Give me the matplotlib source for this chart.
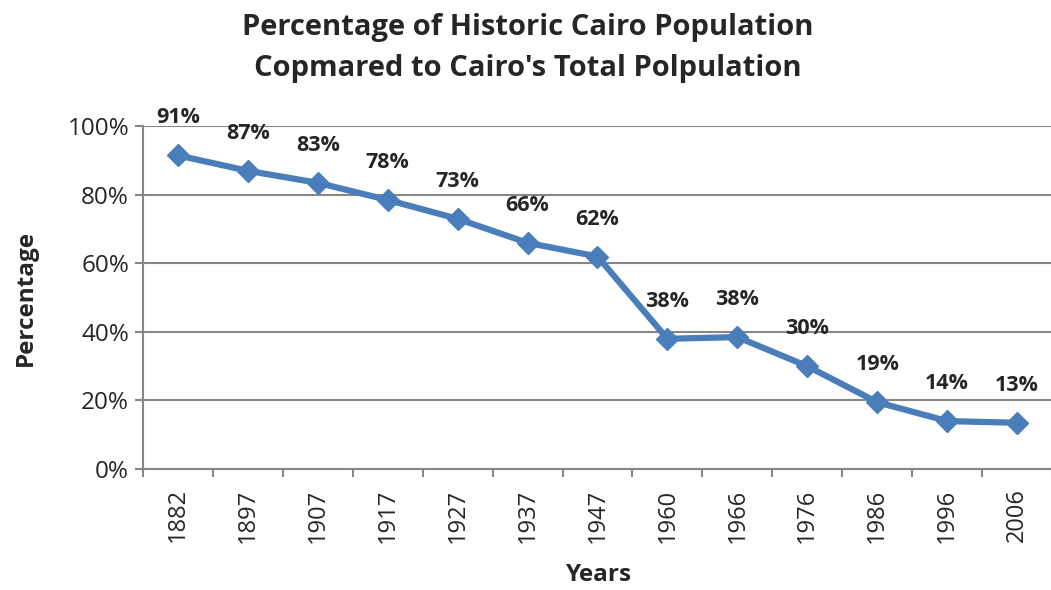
from matplotlib import pyplot as plt
from matplotlib.ticker import PercentFormatter

years = ['1882', '1897', '1907', '1917', '1927', '1937', '1947',
         '1960', '1966', '1976', '1986', '1996', '2006']
pct_values = [91.5, 87, 83.5, 78.5, 73, 66, 62, 38, 38.5, 30, 19.5, 14, 13.5]
pct_labels = ['91%', '87%', '83%', '78%', '73%', '66%', '62%',
              '38%', '38%', '30%', '19%', '14%', '13%']

plt.rcParams['font.family'] = ['Open Sans', 'DejaVu Sans']
text_color = '#262626'
grid_color = '#878787'
line_color = '#4a7ebb'

fig = plt.figure(figsize=(10.51, 5.90), dpi=100)
ax = fig.add_axes([0.136, 0.205, 0.865, 0.581])

x = range(len(years))
ax.plot(x, pct_values, color=line_color, linewidth=4.5, marker='D',
        markersize=11, markerfacecolor=line_color, markeredgecolor=line_color,
        zorder=3, clip_on=False)

for i, lab in enumerate(pct_labels):
    ax.annotate(lab, (i, pct_values[i]), xytext=(0, 27), textcoords='offset points',
                ha='center', va='center', fontsize=15.5, fontweight='bold',
                color=text_color, zorder=4)

ax.set_xlim(-0.5, len(years) - 0.5)
ax.set_ylim(0, 100)
ax.set_yticks([0, 20, 40, 60, 80, 100])
ax.yaxis.set_major_formatter(PercentFormatter(decimals=0))
ax.set_xticks(x)
ax.set_xticklabels(years, rotation=90)
ax.set_xticks([i - 0.5 for i in range(len(years) + 1)], minor=True)

ax.grid(axis='y', color=grid_color, linewidth=1.5, zorder=0)
ax.set_axisbelow(True)
for side in ['top', 'right']:
    ax.spines[side].set_visible(False)
for side in ['left', 'bottom']:
    ax.spines[side].set_color(grid_color)
    ax.spines[side].set_linewidth(1.5)

ax.tick_params(axis='x', which='major', length=0, pad=14, labelsize=17, labelcolor=text_color)
ax.tick_params(axis='x', which='minor', length=6, width=1.5, color=grid_color, direction='out')
ax.tick_params(axis='y', length=6, width=1.5, color=grid_color, pad=4, labelsize=17.5, labelcolor=text_color)

ax.set_xlabel('Years', fontsize=17.5, fontweight='bold', color=text_color)
ax.set_ylabel('Percentage', fontsize=17.5, fontweight='bold', color=text_color)
ax.xaxis.set_label_coords(0.502, -0.275)
ax.yaxis.set_label_coords(-0.116, 0.5)

fig.suptitle("Percentage of Historic Cairo Population\nCopmared to Cairo's Total Polpulation",
             x=0.502, y=0.978, fontsize=21, fontweight='bold', color=text_color,
             linespacing=1.55)

fig.savefig('out.png', dpi=100)
